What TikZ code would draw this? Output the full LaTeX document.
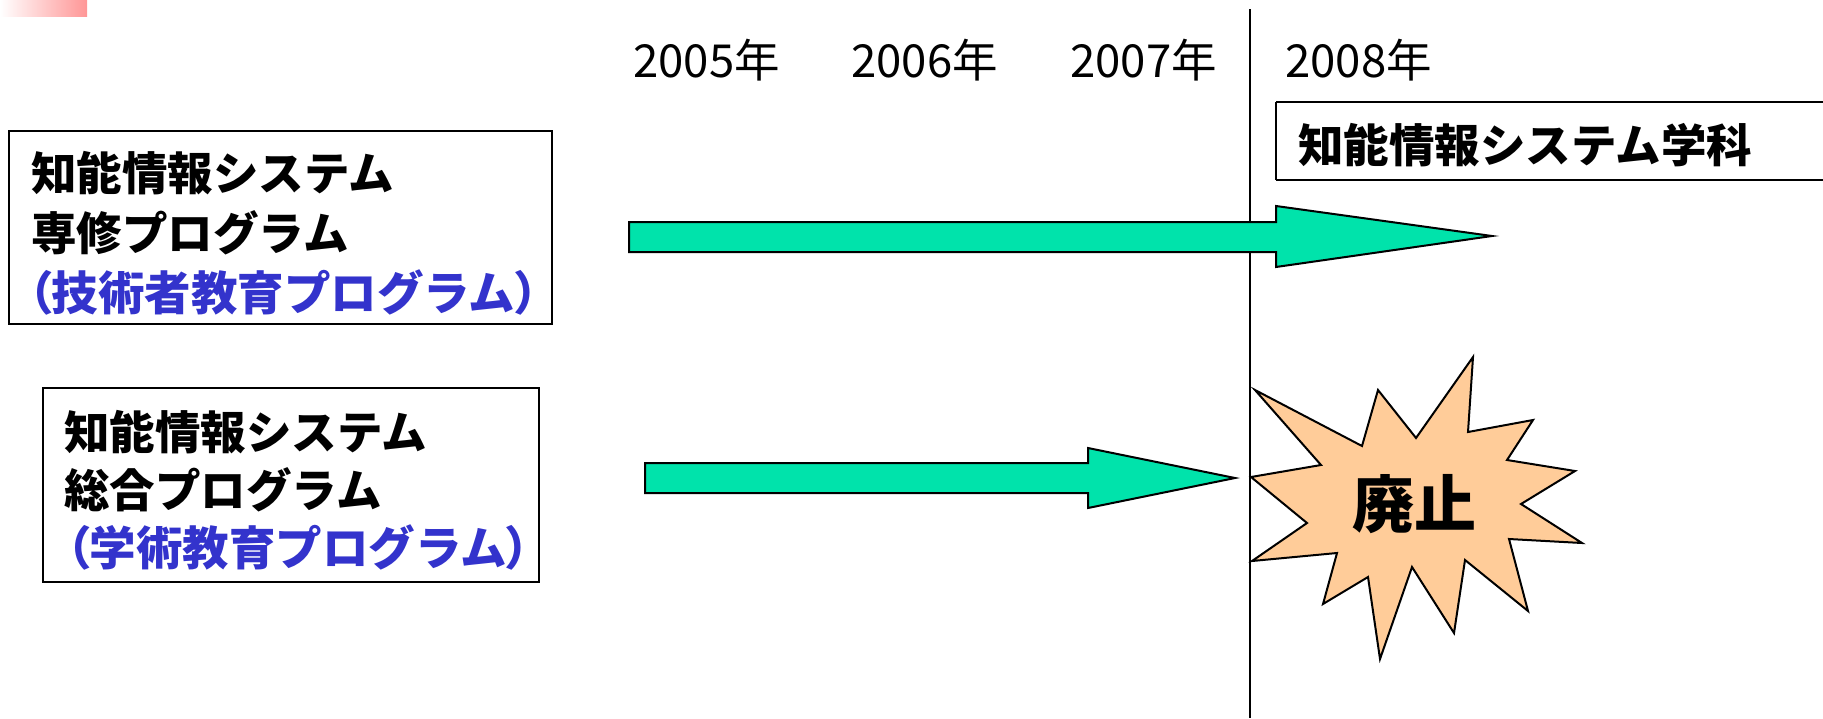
\documentclass[tikz,border=0pt]{standalone}
\usepackage{fontspec}
\setmainfont{Noto Sans CJK JP}
\newfontfamily\cjkp[RawFeature=+palt]{Noto Sans CJK JP}
\definecolor{arrowgreen}{RGB}{0,227,171}
\definecolor{starfill}{RGB}{255,204,153}
\definecolor{progblue}{RGB}{51,51,204}
\definecolor{pinkc}{RGB}{255,150,150}
\tikzset{
  lbl/.style={inner sep=0pt, anchor=base west, font=\fontsize{22.75pt}{29pt}\selectfont\bfseries},
  bluelbl/.style={inner sep=0pt, anchor=base west, text=progblue, font=\fontsize{23.25pt}{29pt}\selectfont\bfseries},
  yearlbl/.style={inner sep=0pt, anchor=base west, font=\fontsize{22.75pt}{29pt}\selectfont},
  frame/.style={draw=black, line width=1pt},
  blockarrow/.style={draw=black, line width=1pt, fill=arrowgreen, line join=miter},
  burst/.style={draw=black, line width=1pt, fill=starfill, line join=miter},
}
\newcommand{\lp}{{\cjkp （}}
\newcommand{\rp}{{\cjkp ）}}
\begin{document}
\begin{tikzpicture}[x=0.5pt, y=-0.5pt]
\useasboundingbox (0,0) rectangle (1823,718);
\clip (0,0) rectangle (1823,718);
% corner decoration
\shade[left color=white, right color=pinkc] (0,0) rectangle (87,16);
% time line
\coordinate (lineTop) at (1250,9);
\coordinate (lineBot) at (1250,718);
\draw[line width=1pt] (lineTop) -- (lineBot);
% years
\node[yearlbl] (y2005) at (633,77) {2005年};
\node[yearlbl] (y2006) at (851,77) {2006年};
\node[yearlbl] (y2007) at (1070,77) {2007年};
\node[yearlbl] (y2008) at (1285,77) {2008年};
% box 1
\draw[frame] (9,131) rectangle (552,324);
\node[lbl] (b1l1) at (31,190) {知能情報システム};
\node[lbl] (b1l2) at (31,250) {専修プログラム};
\node[bluelbl] (b1l3) at (28,310) {\lp 技術者教育プログラム\rp};
% box 2
\draw[frame] (43,388) rectangle (539,582);
\node[lbl] (b2l1) at (64,449) {知能情報システム};
\node[lbl] (b2l2) at (64,507) {総合プログラム};
\node[bluelbl] (b2l3) at (66,565) {\lp 学術教育プログラム\rp};
% box 3 (department)
\draw[frame] (1276,102) -- (1830,102) (1276,180) -- (1830,180) (1276,102) -- (1276,180);
\node[lbl] (dept) at (1298,162) {知能情報システム学科};
% arrow 1
\draw[blockarrow] (629,222) -- (1276,222) -- (1276,206) -- (1492,236) -- (1276,267) -- (1276,252) -- (629,252) -- cycle;
% arrow 2
\draw[blockarrow] (645,463) -- (1088,463) -- (1088,448) -- (1235,478) -- (1088,508) -- (1088,493) -- (645,493) -- cycle;
% burst
\draw[burst] (1255,390) -- (1362,446) -- (1378,390) -- (1416,438) -- (1473,357) -- (1468,432)
  -- (1533,420) -- (1507,460) -- (1575,471) -- (1521,504) -- (1582,543) -- (1509,539)
  -- (1528,611) -- (1465,560) -- (1454,633) -- (1412,567) -- (1380,659) -- (1368,577)
  -- (1323,604) -- (1337,553) -- (1252,561) -- (1307,523) -- (1251,477) -- (1321,465) -- cycle;
\node[inner sep=0pt, font=\fontsize{31pt}{36pt}\selectfont\bfseries] (haishi) at (1414,504) {廃止};
\end{tikzpicture}
\end{document}
